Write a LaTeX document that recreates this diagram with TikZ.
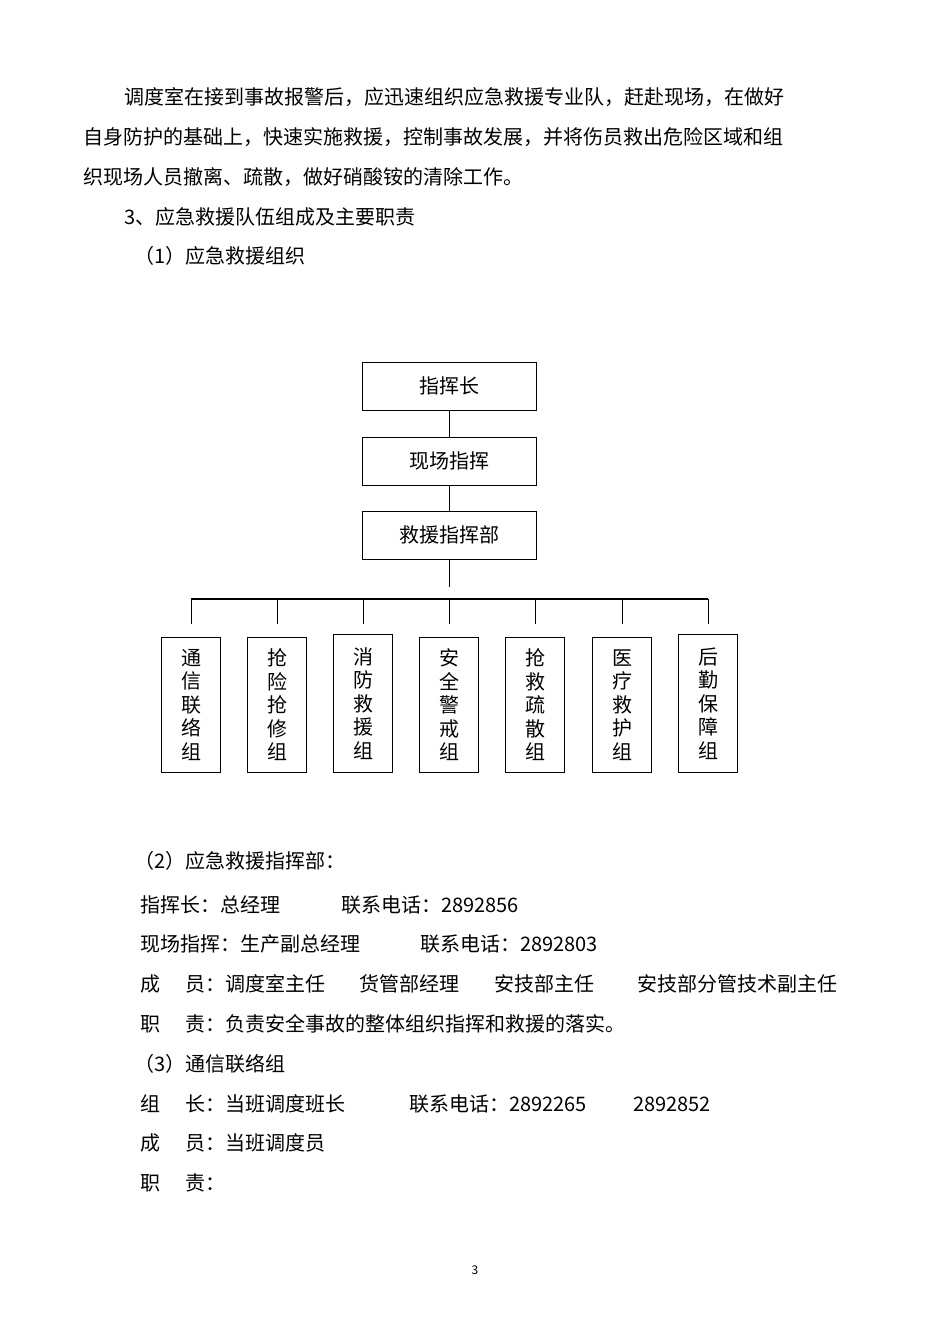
\documentclass[tikz,border=0pt]{standalone}
\usepackage{fontspec}
\setmainfont{Noto Sans CJK SC}
\begin{document}
\begin{tikzpicture}[x=1pt,y=-1pt,
  txt/.style={anchor=west,inner sep=0pt,font=\fontsize{20}{24}\selectfont},
  bigbox/.style={draw,line width=0.9pt,minimum width=174pt,minimum height=48pt,inner sep=0pt,font=\fontsize{20}{24}\selectfont},
  colbox/.style={draw,line width=0.9pt,minimum width=59pt,minimum height=136pt,inner sep=0pt,align=center,font=\fontsize{20}{23.5}\selectfont},
  ln/.style={line width=0.8pt}]
\useasboundingbox (0,0) rectangle (950,1344);
\fill[white] (0,0) rectangle (950,1344);
% paragraph
\node[txt] (p1) at (124,97) {\makebox[734pt][s]{调度室在接到事故报警后，应迅速组织应急救援专业队，赶赴现场，在做好}};
\node[txt] (p2) at (83,137) {\makebox[775pt][s]{自身防护的基础上，快速实施救援，控制事故发展，并将伤员救出危险区域和组}};
\node[txt] (p3) at (83,177) {织现场人员撤离、疏散，做好硝酸铵的清除工作。};
\node[txt] (p4) at (124,217) {3、应急救援队伍组成及主要职责};
\node[txt] (p5) at (134,256) {（1）应急救援组织};
% chart
\node[bigbox] (a) at (449,386) {指挥长};
\node[bigbox] (b) at (449,461) {现场指挥};
\node[bigbox] (c) at (449,535) {救援指挥部};
\draw[ln] (a) -- (b);
\draw[ln] (b) -- (c);
\coordinate (cdown) at (449,587);
\coordinate (barL) at (191,599);
\coordinate (barR) at (708,599);
\draw[ln] (c.south) -- (cdown);
\draw[line width=1.6pt] (barL) -- (barR);
\foreach \n/\x/\t/\top in {g1/191/{通\\信\\联\\络\\组}/637,g2/277/{抢\\险\\抢\\修\\组}/637,g3/363/{消\\防\\救\\援\\组}/634,g4/449/{安\\全\\警\\戒\\组}/637,g5/535/{抢\\救\\疏\\散\\组}/637,g6/622/{医\\疗\\救\\护\\组}/637,g7/708/{后\\勤\\保\\障\\组}/634}{
  \node[colbox,minimum height={772-\top},anchor=north] (\n) at (\x,\top) {\t};
  \coordinate (\n top) at (\x,599);
  \coordinate (\n drop) at (\x,624);
  \draw[ln] (\n top) -- (\n drop);
}
% lower text
\node[txt] (q1) at (134,861) {（2）应急救援指挥部：};
\node[txt] (q2a) at (140,905) {指挥长：总经理};
\node[txt] (q2b) at (341,905) {联系电话：2892856};
\node[txt] (q3a) at (140,944) {现场指挥：生产副总经理};
\node[txt] (q3b) at (420,944) {联系电话：2892803};
\node[txt] (q4a) at (140,984) {成};
\node[txt] (q4b) at (185,984) {员：调度室主任};
\node[txt] (q4c) at (359,984) {货管部经理};
\node[txt] (q4d) at (494,984) {安技部主任};
\node[txt] (q4e) at (637,984) {安技部分管技术副主任};
\node[txt] (q5a) at (140,1024) {职};
\node[txt] (q5b) at (185,1024) {责：负责安全事故的整体组织指挥和救援的落实。};
\node[txt] (q6) at (134,1064) {（3）通信联络组};
\node[txt] (q7a) at (140,1104) {组};
\node[txt] (q7b) at (185,1104) {长：当班调度班长};
\node[txt] (q7c) at (409,1104) {联系电话：2892265};
\node[txt] (q7d) at (633,1104) {2892852};
\node[txt] (q8a) at (140,1143) {成};
\node[txt] (q8b) at (185,1143) {员：当班调度员};
\node[txt] (q9a) at (140,1183) {职};
\node[txt] (q9b) at (185,1183) {责：};
\node[inner sep=0pt,font=\fontsize{12}{14}\selectfont] (pg) at (475,1270) {3};
\end{tikzpicture}
\end{document}
